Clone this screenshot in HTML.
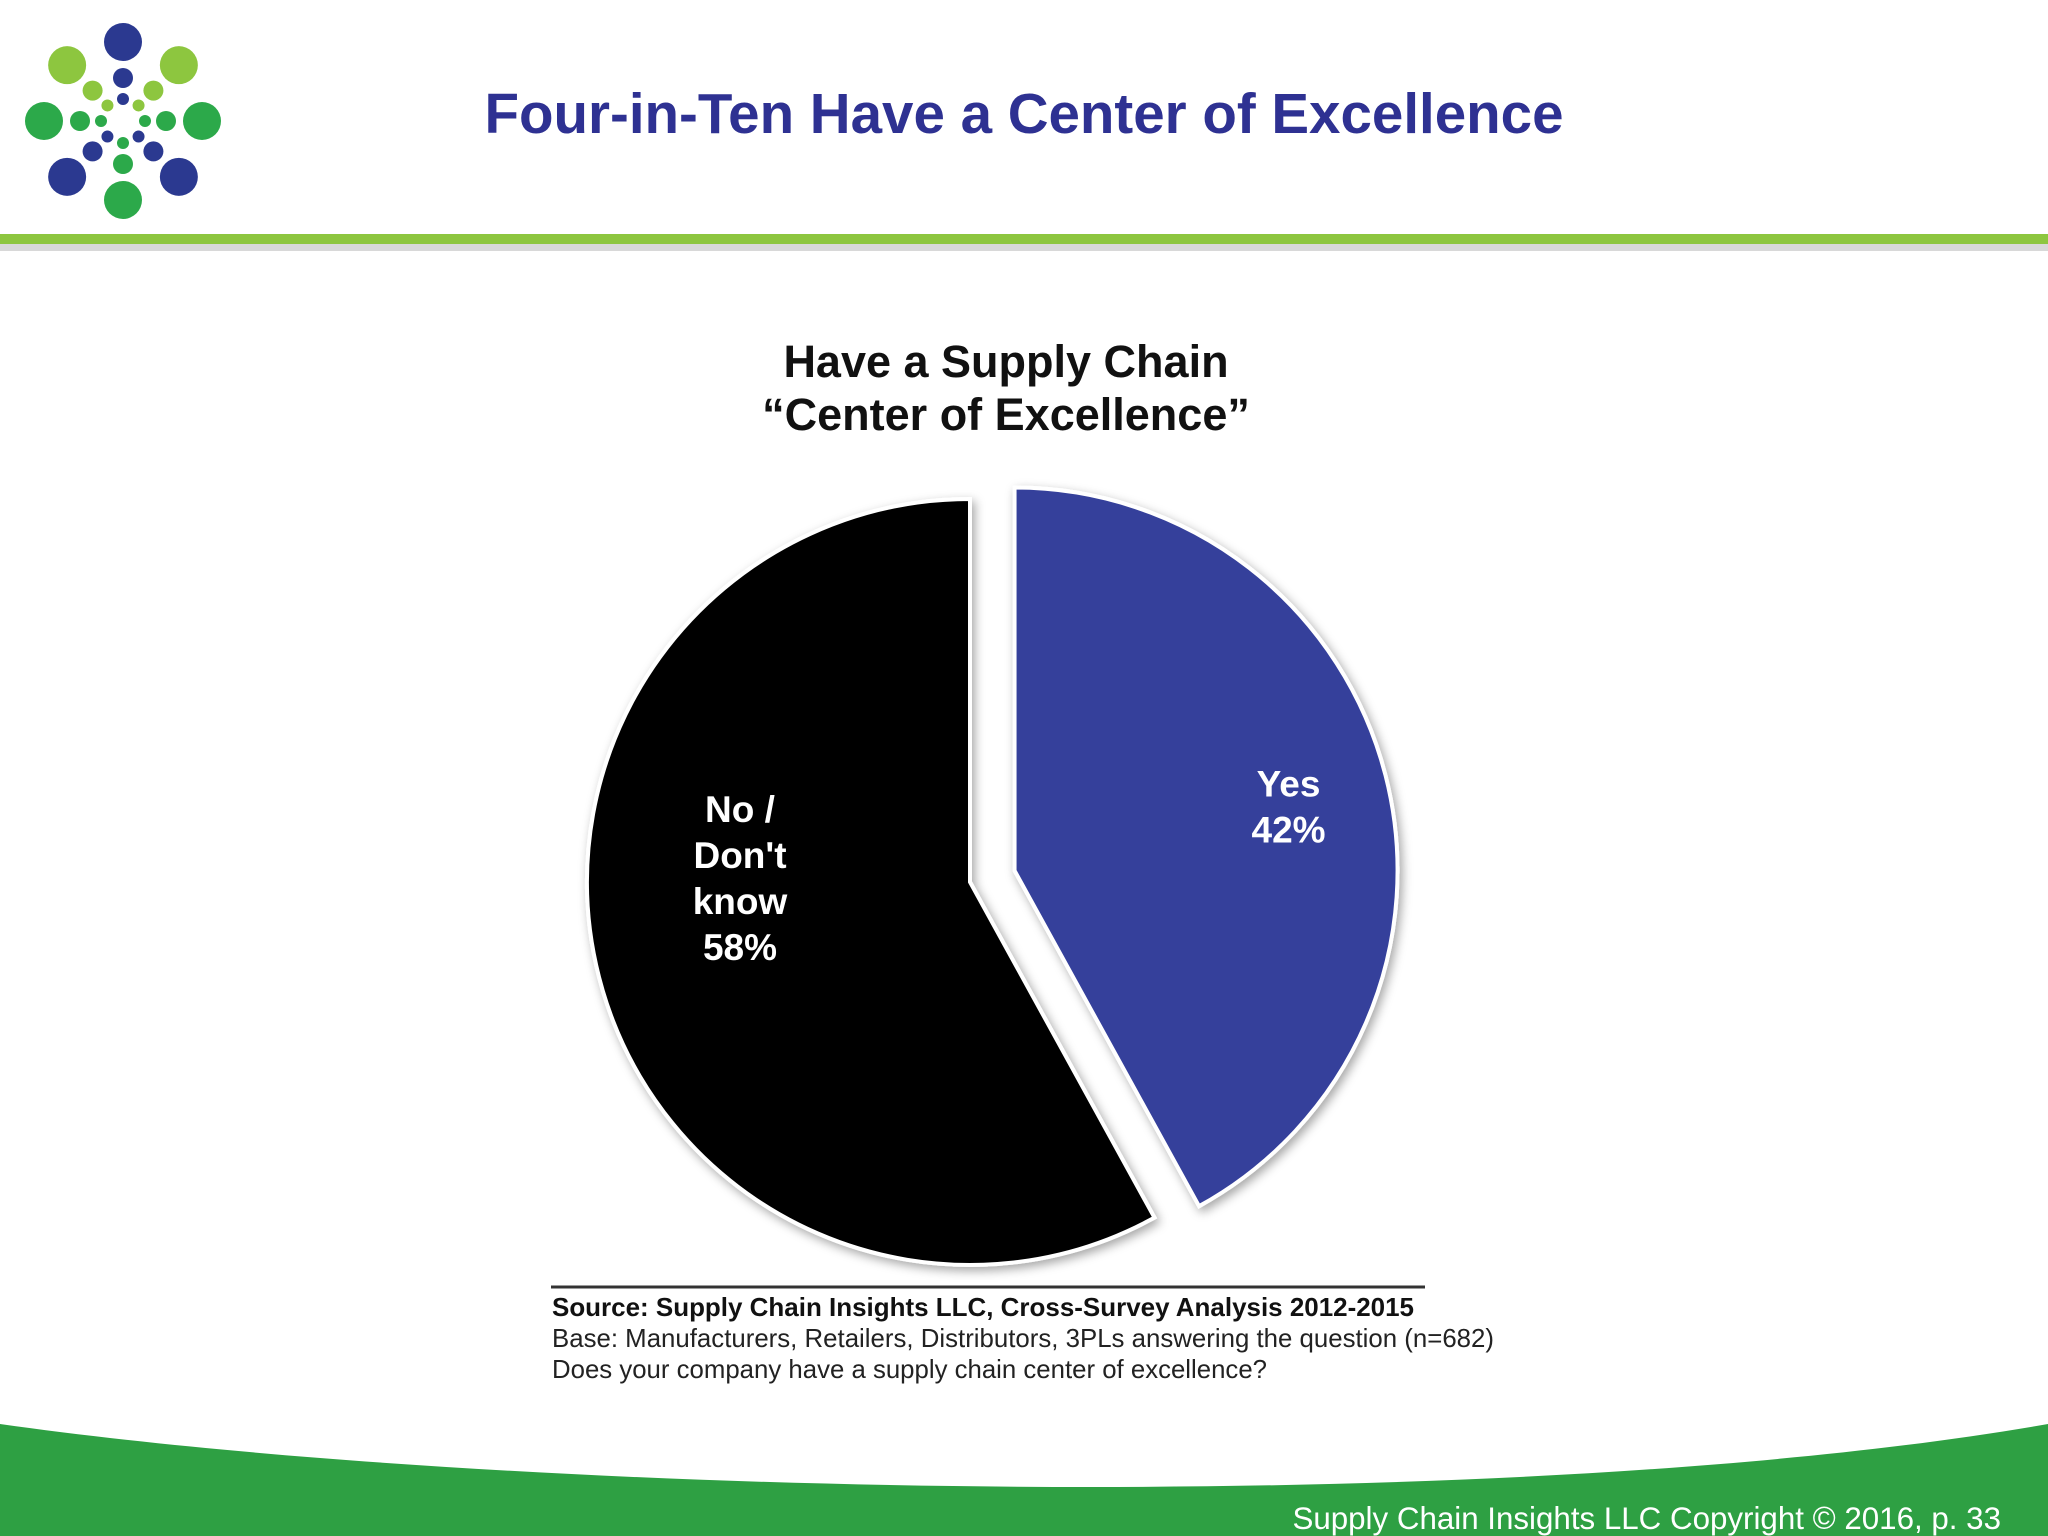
<!DOCTYPE html>
<html><head><meta charset="utf-8"><style>
body{margin:0;background:#fff;}
svg{display:block;font-family:"Liberation Sans",sans-serif;}
</style></head><body>
<svg width="2048" height="1536" viewBox="0 0 2048 1536" xmlns="http://www.w3.org/2000/svg">
<defs>
<filter id="sh" x="-20%" y="-20%" width="140%" height="140%"><feDropShadow dx="3" dy="4" stdDeviation="5" flood-color="#000" flood-opacity="0.35"/></filter>
</defs>
<g id="logo"></g>
<text x="1024" y="133" text-anchor="middle" font-size="56.5" font-weight="bold" fill="#2e3192">Four-in-Ten Have a Center of Excellence</text>
<rect x="0" y="243" width="2048" height="8" fill="#d8d8d8"/>
<rect x="0" y="234" width="2048" height="10" fill="#8dc63f"/>
<text text-anchor="middle" font-size="45" font-weight="bold" fill="#111"><tspan x="1006" y="377">Have a Supply Chain</tspan><tspan x="1006" y="430">“Center of Excellence”</tspan></text>
<g id="pie"></g>
<line x1="551" y1="1287" x2="1425" y2="1287" stroke="#333" stroke-width="3"/>
<text x="552" y="1316" font-size="26" font-weight="bold" fill="#111" textLength="862" lengthAdjust="spacingAndGlyphs">Source:  Supply Chain Insights LLC, Cross-Survey Analysis 2012-2015</text>
<text x="552" y="1347" font-size="26" fill="#222" textLength="942" lengthAdjust="spacingAndGlyphs">Base:  Manufacturers,  Retailers, Distributors, 3PLs answering the question (n=682)</text>
<text x="552" y="1378" font-size="26" fill="#222" textLength="715" lengthAdjust="spacingAndGlyphs">Does your company have a supply chain center of excellence?</text>
<path d="M0 1424 C 500 1495, 1500 1520, 2048 1424 L2048 1536 L0 1536 Z" fill="#2ea043"/>
<text x="2001" y="1529" text-anchor="end" font-size="31.3" fill="#fff">Supply Chain Insights LLC Copyright © 2016, p. 33</text>
</svg>
<script>
const categories=["Yes","No / Don't know"];
const values=[42,58];
const labels=["42%","58%"];
const NS="http://www.w3.org/2000/svg";
const pie=document.getElementById('pie');
const cx=970,cy=882,r=383,explode=46;
const total=values.reduce((a,b)=>a+b,0);
const colors=["#343f9b","#000"];
const labelShift=[[44,-5],[0,-63]];
function pt(a,rad,ox,oy){return [ox+rad*Math.sin(a),oy-rad*Math.cos(a)];}
let start=0;
values.forEach((v,i)=>{
  const sweep=v/total*2*Math.PI, end=start+sweep, mid=start+sweep/2;
  const off=i===0?explode:0;
  const ox=cx+off*Math.sin(mid), oy=cy-off*Math.cos(mid);
  const p1=pt(start,r,ox,oy),p2=pt(end,r,ox,oy);
  const path=document.createElementNS(NS,'path');
  path.setAttribute('d',`M${ox} ${oy} L${p1[0]} ${p1[1]} A${r} ${r} 0 ${sweep>Math.PI?1:0} 1 ${p2[0]} ${p2[1]} Z`);
  path.setAttribute('fill',colors[i]);
  path.setAttribute('stroke','#fff');
  path.setAttribute('stroke-width','4');
  path.setAttribute('filter','url(#sh)');
  
  
  pie.appendChild(path);
  const lp=pt(mid,r*0.62,ox,oy);
  lp[0]+=labelShift[i][0];lp[1]+=labelShift[i][1];
  const lines=i===0?["Yes",labels[i]]:["No /","Don't","know",labels[i]];
  const t=document.createElementNS(NS,'text');
  
  
  t.setAttribute('text-anchor','middle');t.setAttribute('font-size','37');
  t.setAttribute('font-weight','bold');t.setAttribute('fill','#fff');
  const lh=46, y0=lp[1]-(lines.length-1)*lh/2+13;
  lines.forEach((s,k)=>{const ts=document.createElementNS(NS,'tspan');ts.setAttribute('x',lp[0]);ts.setAttribute('y',y0+k*lh);ts.textContent=s;t.appendChild(ts);});
  pie.appendChild(t);
  start=end;
});
const logo=document.getElementById('logo');
const lc=["#2b3990","#8dc63f","#2ca94a","#2b3990","#2ca94a","#2b3990","#2ca94a","#8dc63f"];
const rings=[[79,19],[43,10],[22,6]];
rings.forEach(([d,rr])=>{for(let k=0;k<8;k++){const a=k*Math.PI/4;const c=document.createElementNS(NS,'circle');
c.setAttribute('cx',123+d*Math.sin(a));c.setAttribute('cy',121-d*Math.cos(a));c.setAttribute('r',rr);c.setAttribute('fill',lc[k]);


logo.appendChild(c);}});
</script>
</body></html>
